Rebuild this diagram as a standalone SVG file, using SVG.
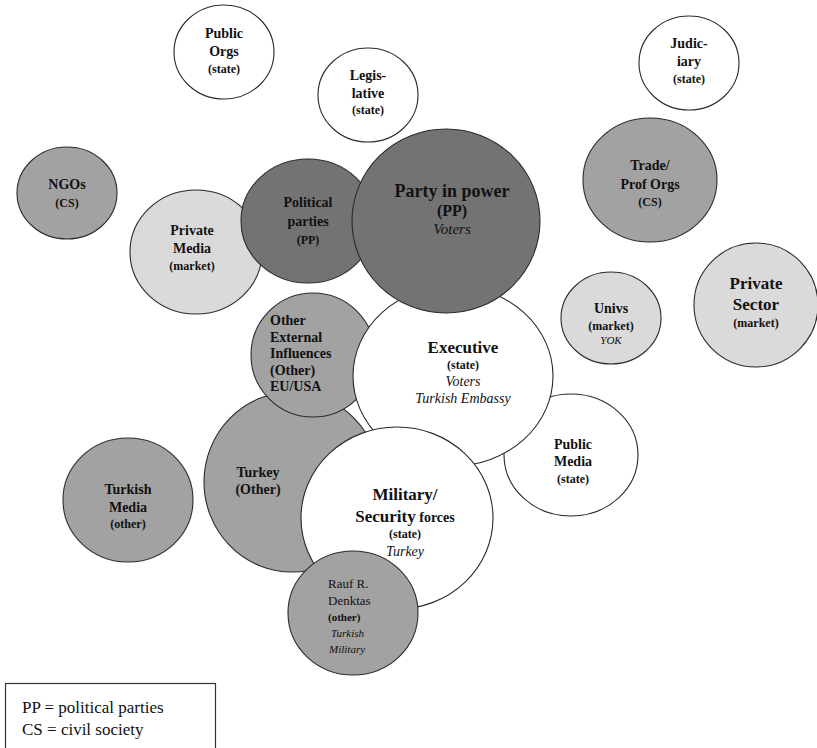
<svg xmlns="http://www.w3.org/2000/svg" width="817" height="748" viewBox="0 0 817 748" font-family="'Liberation Serif', 'DejaVu Serif', serif">
<style>
.c{stroke:#2a2a2a;stroke-width:1.1}
.w{fill:#ffffff}
.m{fill:#a2a2a2}
.d{fill:#737373}
.l{fill:#dadada}
text{font-family:'Liberation Serif','DejaVu Serif',serif;fill:#111;text-anchor:middle}
.b{font-weight:bold;font-size:14px}
.s{font-weight:bold;font-size:12px}
.big{font-weight:bold;font-size:17px}
.i{font-style:italic;font-size:14px}
.lg{font-size:17px;text-anchor:start}
</style>
<rect width="817" height="748" fill="#ffffff"/>
<g id="connectors"/>
<g id="public-orgs"><ellipse class="c w" cx="224" cy="52" rx="50" ry="47"/>
<text class="b" x="224" y="38">Public</text><text class="b" x="224" y="56">Orgs</text><text class="s" x="224" y="73">(state)</text></g>
<g id="legislative"><ellipse class="c w" cx="368" cy="95" rx="50" ry="47"/>
<text class="b" x="368" y="80">Legis-</text><text class="b" x="368" y="98">lative</text><text class="s" x="368" y="114">(state)</text></g>
<g id="ngos"><ellipse class="c m" cx="67" cy="193" rx="50" ry="46"/>
<text class="b" x="67" y="189">NGOs</text><text class="s" x="67" y="207">(CS)</text></g>
<g id="judiciary"><ellipse class="c w" cx="689" cy="63" rx="50" ry="47"/>
<text class="b" x="689" y="48">Judic-</text><text class="b" x="689" y="66">iary</text><text class="s" x="689" y="83">(state)</text></g>
<g id="trade-prof-orgs"><ellipse class="c m" cx="650" cy="180" rx="67" ry="62"/>
<text class="b" x="650" y="170">Trade/</text><text class="b" x="650" y="189">Prof Orgs</text><text class="s" x="650" y="206">(CS)</text></g>
<g id="univs"><ellipse class="c l" cx="611" cy="318" rx="50" ry="46"/>
<text class="b" x="611" y="313">Univs</text><text class="s" x="611" y="330">(market)</text><text class="i" x="611" y="344" style="font-size:11px">YOK</text></g>
<g id="private-sector"><ellipse class="c l" cx="756" cy="305" rx="62" ry="62"/>
<text class="big" x="756" y="289">Private</text><text class="big" x="756" y="310">Sector</text><text class="s" x="756" y="327">(market)</text></g>
<g id="private-media"><ellipse class="c l" cx="196" cy="252" rx="66" ry="62"/>
<text class="b" x="192" y="235">Private</text><text class="b" x="192" y="253">Media</text><text class="s" x="192" y="270">(market)</text></g>
<g id="political-parties"><ellipse class="c d" cx="308" cy="221" rx="67" ry="62"/>
<text class="b" x="308" y="207">Political</text><text class="b" x="308" y="226">parties</text><text class="s" x="308" y="244">(PP)</text></g>
<g id="turkey"><ellipse class="c m" cx="292" cy="482" rx="88" ry="90"/>
<text class="b" x="258" y="477">Turkey</text><text class="b" x="258" y="494">(Other)</text></g>
<g id="turkish-media"><ellipse class="c m" cx="128" cy="500" rx="65" ry="62"/>
<text class="b" x="128" y="494">Turkish</text><text class="b" x="128" y="512">Media</text><text class="s" x="128" y="528">(other)</text></g>
<g id="other-external"><ellipse class="c m" cx="313" cy="355" rx="62" ry="62"/>
<text class="b" x="270" y="325" style="text-anchor:start">Other</text><text class="b" x="270" y="342" style="text-anchor:start">External</text><text class="b" x="270" y="358" style="text-anchor:start">Influences</text><text class="b" x="270" y="375" style="text-anchor:start">(Other)</text><text class="b" x="270" y="391" style="text-anchor:start">EU/USA</text></g>
<g id="public-media"><ellipse class="c w" cx="571" cy="455" rx="67" ry="61"/>
<text class="b" x="573" y="449">Public</text><text class="b" x="573" y="466">Media</text><text class="s" x="573" y="483">(state)</text></g>
<g id="executive"><ellipse class="c w" cx="453" cy="376" rx="100" ry="90"/>
<text class="big" x="463" y="353">Executive</text><text class="s" x="463" y="369">(state)</text><text class="i" x="463" y="386">Voters</text><text class="i" x="463" y="403">Turkish Embassy</text></g>
<g id="party-in-power"><ellipse class="c d" cx="446" cy="221" rx="94" ry="92"/>
<text class="big" x="452" y="197" style="font-size:18px">Party in power</text><text class="b" x="452" y="216" style="font-size:16px">(PP)</text><text class="i" x="452" y="234" style="font-size:15px">Voters</text></g>
<g id="military"><ellipse class="c w" cx="397" cy="518" rx="96" ry="91"/>
<text class="big" x="405" y="500">Military/</text><text x="405" y="522"><tspan class="big">Security</tspan><tspan style="font-weight:bold;font-size:14px"> forces</tspan></text><text class="s" x="405" y="538">(state)</text><text class="i" x="405" y="556">Turkey</text></g>
<g id="rauf-denktas"><ellipse class="c m" cx="353" cy="613" rx="65" ry="62"/>
<text x="328" y="588" style="text-anchor:start;font-size:13px">Rauf R.</text><text x="328" y="605" style="text-anchor:start;font-size:13px">Denktas</text><text x="328" y="621" style="text-anchor:start;font-size:11px;font-weight:bold">(other)</text><text x="331" y="637" style="text-anchor:start;font-size:11px;font-style:italic">Turkish</text><text x="329" y="653" style="text-anchor:start;font-size:11px;font-style:italic">Military</text></g>
<g id="legend"><rect x="5.5" y="683.5" width="210" height="70" fill="#ffffff" stroke="#333" stroke-width="1.2"/>
<text class="lg" x="22" y="713">PP = political parties</text><text class="lg" x="22" y="735">CS = civil society</text></g>
</svg>
